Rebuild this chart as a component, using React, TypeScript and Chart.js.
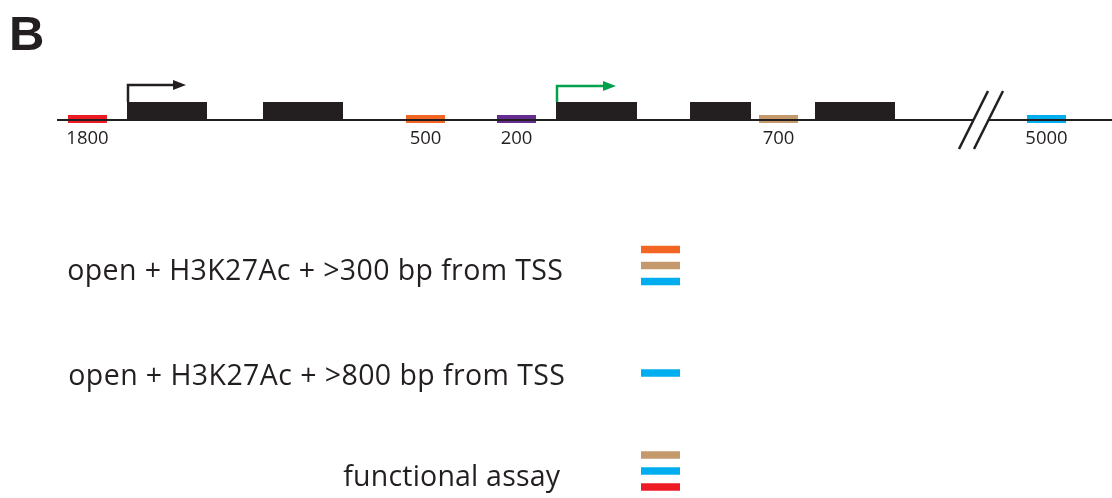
import React, { useEffect, useRef } from 'react';
import { Chart, registerables } from 'chart.js';
Chart.register(...registerables);

// Colours
const BLACK = '#231f20';
const RED = '#ed1c24';
const ORANGE = '#f26522';
const PURPLE = '#662d91';
const TAN = '#c49a6c';
const BLUE = '#00aeef';
const GREEN = '#00a14b';

// Locus diagram (x = position along the drawn locus, y = vertical diagram units)
const trackY = 120;
const trackSegments: number[][] = [[57, 973.5], [988.5, 1112]];
const exonStarts = [127, 263, 556, 690, 815];
const exonEnds = [207, 343, 637, 751, 895];
const exonY = 111.5;
const exonTop = 102;

const siteLabels = ['1800', '500', '200', '700', '5000'];
const siteStarts = [68, 406, 497, 759, 1027];
const siteEnds = [107, 445, 536, 798, 1066];
const siteColors = [RED, ORANGE, PURPLE, TAN, BLUE];
const siteY = 119;
const siteLabelY = 144;

const tssX = [128, 557];
const tssTopY = [85, 86];
const tssTipX = [186, 616];
const tssColors = [BLACK, GREEN];

const breakBottom = [[959, 149], [974, 149]];
const breakTop = [[988, 91], [1003, 91]];

// Legend
const legendLabels = [
  'open + H3K27Ac + >300 bp from TSS',
  'open + H3K27Ac + >800 bp from TSS',
  'functional assay',
];
const legendColors = [[ORANGE, TAN, BLUE], [BLUE], [TAN, BLUE, RED]];
const legendRowY = [265.5, 373, 471];
const legendTextY = [279.5, 384.5, 486];
const legendTextLeft = [67, 68, 343];
const legendTextRight = [563, 565, 560];
const legendBarRange = [641, 680];

const W = 1112;
const H = 498;

function makeArrowHead(color: string): HTMLCanvasElement {
  const c = document.createElement('canvas');
  c.width = 13;
  c.height = 10;
  const g = c.getContext('2d')!;
  g.fillStyle = color;
  g.beginPath();
  g.moveTo(0, 0);
  g.lineTo(13, 5);
  g.lineTo(0, 10);
  g.closePath();
  g.fill();
  return c;
}

export default function App() {
  const ref = useRef<HTMLCanvasElement>(null);
  useEffect(() => {
    const datasets: any[] = [];
    const seg = (pts: { x: number; y: number }[], color: string, width: number, extra: any = {}) => {
      datasets.push({
        data: pts,
        showLine: true,
        borderColor: color,
        backgroundColor: color,
        borderWidth: width,
        borderCapStyle: 'butt',
        borderJoinStyle: 'miter',
        pointRadius: 0,
        fill: false,
        clip: false,
        ...extra,
      });
    };
    trackSegments.forEach(([a, b]) => seg([{ x: a, y: trackY }, { x: b, y: trackY }], BLACK, 2));
    exonStarts.forEach((s, i) => seg([{ x: s, y: exonY }, { x: exonEnds[i], y: exonY }], BLACK, 19));
    siteStarts.forEach((s, i) => seg([{ x: s, y: siteY }, { x: siteEnds[i], y: siteY }], siteColors[i], 8));
    tssX.forEach((x, i) => {
      const head = makeArrowHead(tssColors[i]);
      seg(
        [
          { x, y: exonTop },
          { x, y: tssTopY[i] },
          { x: tssTipX[i] - 6.5, y: tssTopY[i] },
        ],
        tssColors[i],
        2.5,
        { pointRadius: [0, 0, 6], pointStyle: [false, false, head], pointBorderWidth: 0 }
      );
    });
    breakBottom.forEach((b, i) =>
      seg([{ x: b[0], y: b[1] }, { x: breakTop[i][0], y: breakTop[i][1] }], BLACK, 2.5)
    );
    legendColors.forEach((cols, r) => {
      cols.forEach((c, k) => {
        const y = legendRowY[r] + (k - (cols.length - 1) / 2) * 16;
        seg([{ x: legendBarRange[0], y }, { x: legendBarRange[1], y }], c, 7.5);
      });
    });

    const fitText = (ctx: any, t: string, right: number, y: number, width: number) => {
      ctx.letterSpacing = '0px';
      const w = ctx.measureText(t).width;
      const n = Math.max(1, t.length);
      const sp = Math.max(0, (width - w) / n);
      ctx.letterSpacing = sp.toFixed(2) + 'px';
      ctx.textAlign = 'left';
      const w2 = ctx.measureText(t).width;
      ctx.fillText(t, right - w2 + sp, y, width + sp);
      ctx.letterSpacing = '0px';
    };

    const textPlugin = {
      id: 'texts',
      afterDatasetsDraw(chart: any) {
        const { ctx, scales } = chart;
        const xs = scales.x;
        const ys = scales.y;
        ctx.save();
        ctx.fillStyle = BLACK;
        // Panel letter
        ctx.font = 'bold 49px "Liberation Sans", Arial, sans-serif';
        ctx.textAlign = 'left';
        ctx.textBaseline = 'alphabetic';
        ctx.fillText('B', xs.getPixelForValue(9), ys.getPixelForValue(50));
        // Site labels
        ctx.font = '18.5px "Open Sans", sans-serif';
        ctx.textAlign = 'center';
        siteLabels.forEach((t, i) => {
          const cx = (siteStarts[i] + siteEnds[i]) / 2;
          ctx.fillText(t, xs.getPixelForValue(cx), ys.getPixelForValue(siteLabelY));
        });
        // Legend labels
        ctx.font = '28.5px "Open Sans", sans-serif';
        legendLabels.forEach((t, i) => {
          const right = xs.getPixelForValue(legendTextRight[i]);
          const left = xs.getPixelForValue(legendTextLeft[i]);
          fitText(ctx, t, right, ys.getPixelForValue(legendTextY[i]), right - left);
        });
        ctx.restore();
      },
    };

    const chart = new Chart(ref.current!, {
      type: 'scatter',
      data: { datasets },
      options: {
        responsive: false,
        animation: false,
        events: [],
        layout: { padding: 0, autoPadding: false },
        plugins: { legend: { display: false }, tooltip: { enabled: false } },
        scales: {
          x: { type: 'linear', display: false, min: 0, max: W },
          y: { type: 'linear', display: false, min: 0, max: H, reverse: true },
        },
      },
      plugins: [textPlugin],
    } as any);
    return () => chart.destroy();
  }, []);
  return (
    <div style={{ position: 'fixed', left: 0, top: 0, width: W, height: H, background: '#fff' }}>
      <canvas ref={ref} width={W} height={H} style={{ width: W, height: H, display: 'block' }} />
    </div>
  );
}
